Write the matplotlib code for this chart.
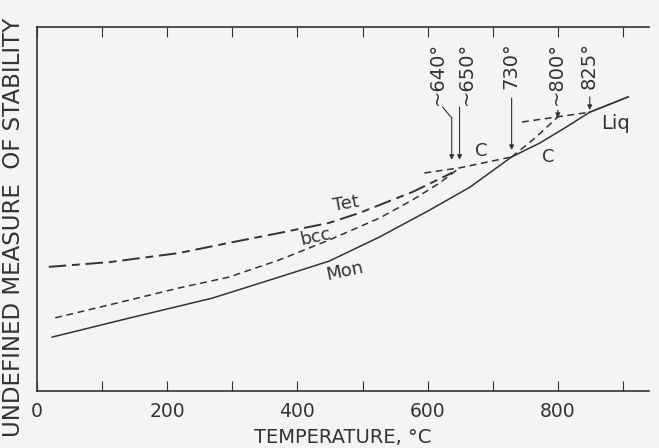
import matplotlib
matplotlib.use("Agg")
import matplotlib.pyplot as plt
from matplotlib.ticker import FixedLocator

# ---- data (temperature in deg C, stability in arbitrary units 0-10) ----
mon_T = [23, 141, 269, 372, 449, 526, 603, 665, 729]
mon_y = [1.48, 2.00, 2.55, 3.13, 3.57, 4.23, 4.97, 5.60, 6.43]
mon_meta_T = [729, 765, 800]
mon_meta_y = [6.43, 6.95, 7.53]

tet_T = [18, 111, 218, 295, 372, 449, 495, 577, 638]
tet_y = [3.41, 3.54, 3.79, 4.07, 4.34, 4.62, 4.89, 5.47, 6.00]

bcc_T = [28, 126, 218, 295, 372, 449, 526, 577, 618, 649]
bcc_y = [2.01, 2.43, 2.83, 3.13, 3.60, 4.15, 4.75, 5.25, 5.71, 6.13]

c_meta_T = [595, 649, 729]
c_meta_y = [5.99, 6.13, 6.43]
c_T = [729, 772, 811, 849]
c_y = [6.43, 6.81, 7.23, 7.66]

liq_meta_T = [745, 849]
liq_meta_y = [7.39, 7.66]
liq_T = [849, 880, 908]
liq_y = [7.66, 7.88, 8.08]

trans_labels = ["~640°", "~650°", "730°", "~800°", "825°"]
trans_text_T = [615, 659, 728, 798, 848]
trans_arrow_T = [637, 649, 729, 800, 849]
trans_tip_y = [6.35, 6.35, 6.62, 7.50, 7.72]
trans_start_y = [7.50, 7.80, 8.05, 7.72, 8.08]

curve_labels = ["Tet", "bcc", "Mon", "C", "C", "Liq"]
curve_label_T = [475, 428, 472, 682, 786, 888]
curve_label_y = [5.13, 4.24, 3.28, 6.59, 6.43, 7.36]
curve_label_rot = [10, 12, 12, 0, 0, 0]

xticks_major = [0, 200, 400, 600, 800]
xticks_minor = [100, 300, 500, 700, 900]

# ---- figure ----
bg = "#f4f4f4"
ink = "#333333"
fig = plt.figure(figsize=(6.59, 4.48), dpi=100, facecolor=bg)
W, H = 659, 448
ax = fig.add_axes([37 / W, (448 - 391) / H, (649 - 37) / W, (391 - 27) / H])
ax.set_facecolor(bg)
ax.set_xlim(0, 940)
ax.set_ylim(0, 10)

lw = 1.1
ax.plot(mon_T, mon_y, color=ink, lw=lw, solid_capstyle="round")
ax.plot(mon_meta_T, mon_meta_y, color=ink, lw=lw, dashes=(4.5, 3))
ax.plot(tet_T, tet_y, color=ink, lw=1.4, dashes=(9, 3, 4, 3))
ax.plot(bcc_T, bcc_y, color=ink, lw=lw, dashes=(4.5, 3))
ax.plot(c_meta_T, c_meta_y, color=ink, lw=lw, dashes=(4.5, 3))
ax.plot(c_T, c_y, color=ink, lw=lw)
ax.plot(liq_meta_T, liq_meta_y, color=ink, lw=lw, dashes=(4.5, 3))
ax.plot(liq_T, liq_y, color=ink, lw=1.3)

for lab, tx, ax_T, tip, st in zip(trans_labels, trans_text_T, trans_arrow_T,
                                  trans_tip_y, trans_start_y):
    ax.text(tx, 9.59, lab, rotation=90, ha="center", va="top",
            fontsize=14, color=ink)
    ax.annotate("", xy=(ax_T, tip), xytext=(ax_T, st),
                arrowprops=dict(arrowstyle="-|>", lw=0.8, color=ink,
                                mutation_scale=7, shrinkA=0, shrinkB=0))
# bent lead-in for the ~640 arrow
ax.plot([trans_text_T[0] + 8, trans_arrow_T[0]], [7.80, 7.50], color=ink, lw=0.8)

for lab, tx, ty, rot in zip(curve_labels, curve_label_T, curve_label_y, curve_label_rot):
    ax.text(tx, ty, lab, ha="center", va="center", rotation=rot,
            fontsize=14 if lab == "Liq" else 13, color=ink)

# axes styling
ax.spines["right"].set_visible(False)
for s in ["left", "bottom", "top"]:
    ax.spines[s].set_color(ink)
    ax.spines[s].set_linewidth(1.2)

ax.xaxis.set_major_locator(FixedLocator(xticks_major))
ax.xaxis.set_minor_locator(FixedLocator(xticks_minor))
ax.set_xticklabels([str(v) for v in xticks_major])
ax.tick_params(axis="x", which="both", direction="in", length=7, width=0.8,
               color=ink, top=True, labeltop=False, labelsize=13.5,
               labelcolor=ink, pad=8)
ax.set_yticks([])

ax.set_xlabel("TEMPERATURE, °C", fontsize=14, color=ink, labelpad=5)
ax.set_ylabel("UNDEFINED MEASURE  OF STABILITY", fontsize=16.5, color=ink)
ax.yaxis.set_label_coords(-0.020, 0.45)

fig.savefig("out.png", dpi=100, facecolor=bg)
